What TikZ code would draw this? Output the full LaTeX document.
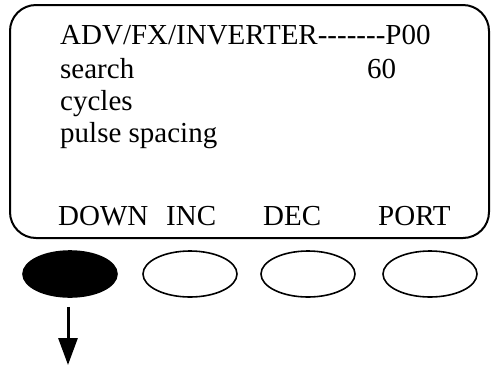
\documentclass[tikz,border=0pt]{standalone}
\usepackage{fontspec}
\setmainfont{Liberation Serif}[Ligatures=TeXOff]
\usetikzlibrary{arrows.meta,shapes.geometric}

\tikzset{
  lcd/.style={font=\fontsize{29}{30}\selectfont, inner sep=0pt, anchor=base west},
  key/.style={ellipse, draw, line width=1.6pt, minimum width=94pt, minimum height=46pt, inner sep=0pt},
}

\begin{document}
\begin{tikzpicture}[x=1pt, y=-1pt]
  \useasboundingbox (0, 0) rectangle (491, 368);

  \draw [line width=2pt, rounded corners=26pt] (10, 5) rectangle (489, 238);

  \node [lcd] (title)   at (60, 44)  {ADV/FX/INVERTER-------P00};
  \node [lcd] (search)  at (60, 78)  {search};
  \node [lcd] (val)     at (367, 78) {60};
  \node [lcd] (cycles)  at (60, 110) {cycles};
  \node [lcd] (spacing) at (60, 142) {pulse spacing};

  \node [lcd] (ldown) at (58, 225)  {DOWN};
  \node [lcd] (linc)  at (166, 225) {INC};
  \node [lcd] (ldec)  at (263, 225) {DEC};
  \node [lcd] (lport) at (378, 225) {PORT};

  \node [key, fill=black] (kdown) at (70, 274)  {};
  \node [key]             (kinc)  at (190, 274) {};
  \node [key]             (kdec)  at (308, 274) {};
  \node [key]             (kport) at (430, 274) {};

  \coordinate (tip) at (68, 365);
  \draw [line width=3pt, -{Triangle[width=19pt, length=27pt]}]
    ([yshift=-9pt] kdown.south -| tip) -- (tip);
\end{tikzpicture}
\end{document}
